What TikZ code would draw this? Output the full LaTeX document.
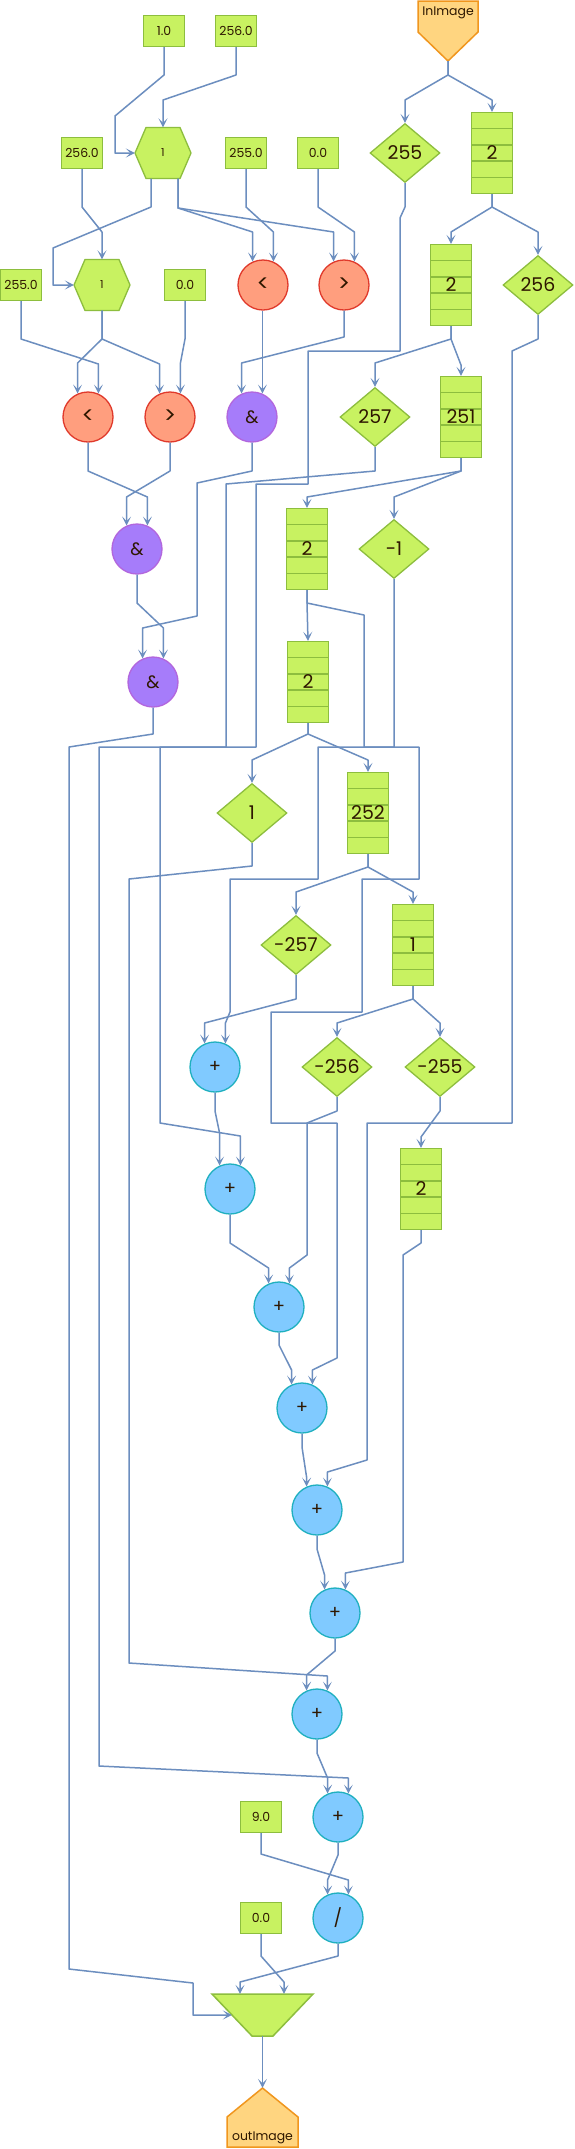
\documentclass[tikz,border=0pt]{standalone}
\usepackage{fontspec}
\setmainfont{Poppins}
\usetikzlibrary{arrows.meta,shapes.geometric,calc}
\definecolor{gfill}{HTML}{C8F261}
\definecolor{gstroke}{HTML}{8DBE3E}
\definecolor{ofill}{HTML}{FFD580}
\definecolor{ostroke}{HTML}{F0961E}
\definecolor{rfill}{HTML}{FF9E7E}
\definecolor{rstroke}{HTML}{E0392B}
\definecolor{pfill}{HTML}{A67CFA}
\definecolor{pstroke}{HTML}{B266DD}
\definecolor{bfill}{HTML}{80CAFF}
\definecolor{bstroke}{HTML}{1FB0BF}
\definecolor{ecol}{HTML}{6C8EBF}
\definecolor{tcol}{HTML}{2E1700}
\newcommand\myfs{\fontsize{12.5}{13}\selectfont}
\newcommand\myfb{\fontsize{19}{20}\selectfont}
\newcommand\myfo{\fontsize{18}{19}\selectfont}
\newcommand\myfcmp{\fontsize{23}{24}\selectfont}
\newcommand\myfh{\fontsize{11}{12}\selectfont}
\newcommand\myfio{\fontsize{12.5}{13}\selectfont}
\tikzset{
  conn/.style={draw=ecol, line width=1.5bp, line join=round, -{Stealth[length=9bp,width=9bp,inset=4.5bp]}},
  cbox/.style={rectangle, draw=gstroke, fill=gfill, line width=1.3bp, minimum width=41bp, minimum height=31bp, inner sep=0, font=\myfs, text=tcol},
  opc/.style={circle, line width=1.3bp, minimum size=50bp, inner sep=0, font=\myfo, text=tcol},
  redc/.style={opc, draw=rstroke, fill=rfill, font=\myfcmp},
  purc/.style={opc, draw=pstroke, fill=pfill},
  bluc/.style={opc, draw=bstroke, fill=bfill},
  dia/.style={diamond, shape aspect=1.2, draw=gstroke, fill=gfill, line width=1.3bp, minimum width=70bp, minimum height=59bp, inner sep=0, font=\myfb, text=tcol},
  stk/.style={rectangle, draw=gstroke, fill=gfill, line width=1.3bp, minimum width=41bp, minimum height=81bp, inner sep=0, font=\myfb, text=tcol,
    path picture={\foreach \k in {1,2,3,4}{\draw[gstroke, line width=1.3bp] ($(path picture bounding box.north west)!\k/5!(path picture bounding box.south west)$) -- ($(path picture bounding box.north east)!\k/5!(path picture bounding box.south east)$);}}},
  hexsty/.style={fill=gfill, draw=gstroke, line width=1.3bp},
  hexlbl/.style={rectangle, minimum width=56bp, minimum height=51bp, inner sep=0, font=\myfh, text=tcol},
  iosty/.style={fill=ofill, draw=ostroke, line width=1.5bp, line join=miter},
  mergesty/.style={fill=gfill, draw=gstroke, line width=1.5bp},
  ghost/.style={rectangle, inner sep=0, draw=none},
  lbl/.style={inner sep=0, text=tcol, font=\myfio}
}
\newcommand\myhex[2]{\path[hexsty] (#1-28,#2) -- (#1-17,#2-25.5) -- (#1+17,#2-25.5) -- (#1+28,#2) -- (#1+17,#2+25.5) -- (#1-17,#2+25.5) -- cycle;}
\begin{document}
\begin{tikzpicture}[x=1bp,y=-1bp]
\useasboundingbox (0,0) rectangle (575,2149);
\fill[white] (0,0) rectangle (575,2149);

% ---- io shapes ----
\path[iosty] (418,1) -- (478,1) -- (478,32) -- (448,61) -- (418,32) -- cycle;
\node[ghost, minimum width=60bp, minimum height=60bp] (inImage) at (448,31) {};
\node[lbl, anchor=north] (inImageText) at (448,6.5) {InImage};

\path[iosty] (262.5,2088) -- (298,2117) -- (298,2147) -- (227,2147) -- (227,2117) -- cycle;
\node[ghost, minimum width=71bp, minimum height=59bp] (outImage) at (262.5,2117.5) {};
\node[lbl, anchor=base] (outImageText) at (262.5,2140.5) {outImage};

\path[mergesty] (212,1994) -- (313,1994) -- (273,2036) -- (252,2036) -- cycle;
\node[ghost, minimum width=101bp, minimum height=42bp] (merge) at (262.5,2015) {};

% ---- constants ----
\node[cbox] (c10) at (164,31) {1.0};
\node[cbox] (c256a) at (236,31) {256.0};
\node[cbox] (c256b) at (82,153) {256.0};
\node[cbox] (c255a) at (246,153) {255.0};
\node[cbox] (c00a) at (318,153) {0.0};
\node[cbox] (c255b) at (21,285) {255.0};
\node[cbox] (c00b) at (185,285) {0.0};
\node[cbox] (c90) at (261,1817) {9.0};
\node[cbox] (c00c) at (261,1918) {0.0};

% ---- hexagons ----
\myhex{163}{153}
\node[hexlbl] (hex1) at (163,153) {1};
\myhex{102}{285}
\node[hexlbl] (hex2) at (102,285) {1};

% ---- circles ----
\node[redc] (lt1) at (263,285) {<};
\node[redc] (gt1) at (344,285) {>};
\node[redc] (lt2) at (88,417) {<};
\node[redc] (gt2) at (170,417) {>};
\node[purc] (and1) at (252,417) {\&};
\node[purc] (and2) at (137,549) {\&};
\node[purc] (and3) at (153,682) {\&};
\node[bluc] (p1) at (215,1067) {+};
\node[bluc] (p2) at (230,1189) {+};
\node[bluc] (p3) at (279,1307) {+};
\node[bluc] (p4) at (302,1408) {+};
\node[bluc] (p5) at (317,1510) {+};
\node[bluc] (p6) at (335,1613) {+};
\node[bluc] (p7) at (317,1714) {+};
\node[bluc] (p8) at (338,1817) {+};
\node[bluc] (div) at (338,1918) {/};

% ---- diamonds ----
\node[dia] (d255) at (405,153) {255};
\node[dia] (d256) at (538,285) {256};
\node[dia] (d257) at (375,417) {257};
\node[dia] (dm1) at (394,549) {-1};
\node[dia] (d1) at (252,813) {1};
\node[dia] (dm257) at (296,945) {-257};
\node[dia] (dm256) at (337,1067) {-256};
\node[dia] (dm255) at (440,1067) {-255};

% ---- stacks ----
\node[stk] (S1) at (492,153) {2};
\node[stk] (S2) at (451,285) {2};
\node[stk] (S3) at (461,417) {251};
\node[stk] (S4) at (307,549) {2};
\node[stk] (S5) at (308,682) {2};
\node[stk] (S6) at (368,813) {252};
\node[stk] (S7) at (413,945) {1};
\node[stk] (S8) at (421,1189) {2};

% ---- connectors ----
\draw[conn] (c10.south) -- (164,75) -- (115,116) -- (115,153) -- (hex1.west);
\draw[conn] (c256a.south) -- (236,75) -- (163,100) -- (hex1.north);
\draw[conn] (inImage.south) -- (448,75) -- (405,100) -- (d255.north);
\draw[conn] (inImage.south) -- (448,75) -- (492,100) -- (S1.north);
\draw[conn] ([xshift=-12bp]hex1.south) -- (151,207) -- (53,248) -- (53,285) -- (hex2.west);
\draw[conn] ([xshift=15bp]hex1.south) -- (178,208) -- (lt1.114 |- 0,232) -- (lt1.114);
\draw[conn] ([xshift=15bp]hex1.south) -- (178,208) -- (gt1.114 |- 0,232) -- (gt1.114);
\draw[conn] (c256b.south) -- (82,207) -- (102,232) -- (hex2.north);
\draw[conn] (c255a.south) -- (246,207) -- (lt1.66 |- 0,232) -- (lt1.66);
\draw[conn] (c00a.south) -- (318,207) -- (gt1.66 |- 0,232) -- (gt1.66);
\draw[conn] (d255.south) -- (405,207) -- (400,218) -- (400,351) -- (308,351) -- (308,484) -- (256,484) -- (256,747) -- (99,747) -- (99,1766) -- (p8.66 |- 0,1778) -- (p8.66);
\draw[conn] (d257.south) -- (375,471) -- (226,484) -- (226,747) -- (160,747) -- (160,1123) -- (p2.66 |- 0,1136) -- (p2.66);
\draw[conn] (and1.south) -- (252,471) -- (197,483) -- (197,616) -- (and3.114 |- 0,628) -- (and3.114);
\draw[conn] (and1.66 |- lt1.south) -- (and1.66);
\draw[conn] (gt1.south) -- (344,337) -- (and1.114 |- 0,363) -- (and1.114);
\draw[conn] (c255b.south) -- (21,339) -- (lt2.66 |- 0,364) -- (lt2.66);
\draw[conn] (hex2.south) -- (102,339) -- (lt2.114 |- 0,363) -- (lt2.114);
\draw[conn] (hex2.south) -- (102,339) -- (gt2.114 |- 0,364) -- (gt2.114);
\draw[conn] (c00b.south) -- (185,339) -- (gt2.66 |- 0,363) -- (gt2.66);
\draw[conn] (lt2.south) -- (88,471) -- (and2.66 |- 0,497) -- (and2.66);
\draw[conn] (gt2.south) -- (170,471) -- (and2.114 |- 0,497) -- (and2.114);
\draw[conn] (and2.south) -- (137,603) -- (and3.66 |- 0,628) -- (and3.66);
\draw[conn] (and3.south) -- (153,734) -- (69,747) -- (69,1969) -- (193,1983) -- (193,2015) -- ([xshift=20bp]merge.west);
\draw[conn] (S1.south) -- (492,207) -- (451,232) -- (S2.north);
\draw[conn] (S1.south) -- (492,207) -- (538,232) -- (d256.north);
\draw[conn] (d256.south) -- (538,339) -- (512,351) -- (512,1123) -- (367,1123) -- (367,1460) -- (p5.66 |- 0,1472) -- (p5.66);
\draw[conn] (S2.south) -- (451,339) -- (375,363) -- (d257.north);
\draw[conn] (S2.south) -- (451,339) -- (461,365) -- (S3.north);
\draw[conn] (S3.south) -- (461,471) -- (307,497) -- (S4.north);
\draw[conn] (S3.south) -- (461,471) -- (394,497) -- (dm1.north);
\draw[conn] (S4.south) -- (307,603) -- (S5.north);
\draw[conn] (S4.south) -- (307,603) -- (364,615) -- (364,747) -- (419,747) -- (419,879) -- (362,879) -- (362,1012) -- (271,1012) -- (271,1123) -- (337,1123) -- (337,1358) -- (p4.66 |- 0,1370) -- (p4.66);
\draw[conn] (dm1.south) -- (394,747) -- (318,747) -- (318,879) -- (230,879) -- (230,1012) -- (p1.66 |- 0,1023) -- (p1.66);
\draw[conn] (S5.south) -- (308,734) -- (252,760) -- (d1.north);
\draw[conn] (S5.south) -- (308,734) -- (368,760) -- (S6.north);
\draw[conn] (d1.south) -- (252,866) -- (129,879) -- (129,1663) -- (p7.66 |- 0,1676) -- (p7.66);
\draw[conn] (S6.south) -- (368,867) -- (296,892) -- (dm257.north);
\draw[conn] (S6.south) -- (368,867) -- (413,892) -- (S7.north);
\draw[conn] (dm257.south) -- (296,999) -- (p1.114 |- 0,1023) -- (p1.114);
\draw[conn] (S7.south) -- (413,999) -- (337,1023) -- (dm256.north);
\draw[conn] (S7.south) -- (413,999) -- (440,1023) -- (dm255.north);
\draw[conn] (dm256.south) -- (337,1111) -- (307,1123) -- (307,1255) -- (p3.66 |- 0,1268) -- (p3.66);
\draw[conn] (dm255.south) -- (440,1111) -- (421,1137) -- (S8.north);
\draw[conn] (S8.south) -- (421,1243) -- (403,1255) -- (403,1562) -- (p6.66 |- 0,1573) -- (p6.66);
\draw[conn] (p1.south) -- (215,1111) -- (p2.114 |- 0,1133) -- (p2.114);
\draw[conn] (p2.south) -- (230,1243) -- (p3.114 |- 0,1268) -- (p3.114);
\draw[conn] (p3.south) -- (279,1345) -- (p4.114 |- 0,1370) -- (p4.114);
\draw[conn] (p4.south) -- (302,1447) -- (p5.114 |- 0,1477) -- (p5.114);
\draw[conn] (p5.south) -- (317,1549) -- (p6.114 |- 0,1575) -- (p6.114);
\draw[conn] (p6.south) -- (335,1651) -- (p7.114 |- 0,1675) -- (p7.114);
\draw[conn] (p7.south) -- (317,1753) -- (p8.114 |- 0,1778) -- (p8.114);
\draw[conn] (p8.south) -- (338,1855) -- (div.114 |- 0,1880) -- (div.114);
\draw[conn] (c90.south) -- (261,1854) -- (div.66 |- 0,1880) -- (div.66);
\draw[conn] (div.south) -- (338,1956) -- (240,1982) -- ([xshift=-22.5bp]merge.north);
\draw[conn] (c00c.south) -- (261,1956) -- (284,1982) -- ([xshift=21.5bp]merge.north);
\draw[conn] (merge.south) -- (outImage.north);
\end{tikzpicture}
\end{document}
